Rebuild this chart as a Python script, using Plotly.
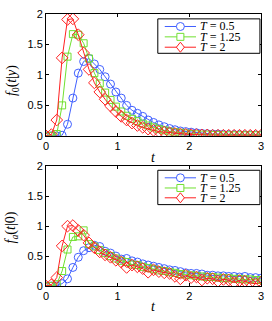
import numpy as np
import plotly.graph_objects as go

t = [round(i * 0.075, 3) for i in range(41)]

# top panel f0(t|y)
f0_T05 = [0, 0, 0, 0.01, 0.19, 0.62, 1.03, 1.22, 1.27, 1.18, 1.09, 0.97, 0.85, 0.72, 0.62, 0.50,
          0.42, 0.37, 0.32, 0.26, 0.22, 0.18, 0.15, 0.12, 0.10, 0.08, 0.07, 0.06, 0.05, 0.04,
          0.035, 0.03, 0.03, 0.025, 0.02, 0.02, 0.02, 0.015, 0.015, 0.015, 0.015]
f0_T125 = [0, 0, 0.03, 0.50, 1.30, 1.67, 1.66, 1.52, 1.27, 1.03, 0.86, 0.71, 0.59, 0.48, 0.40, 0.33,
           0.28, 0.24, 0.20, 0.17, 0.14, 0.11, 0.09, 0.07, 0.06, 0.05, 0.04, 0.03, 0.025, 0.02,
           0.02, 0.015, 0.015, 0.01, 0.01, 0.01, 0.01, 0.01, 0.01, 0.01, 0.01]
f0_T2 = [0, 0.02, 0.26, 1.28, 1.91, 1.92, 1.66, 1.36, 1.09, 0.87, 0.72, 0.60, 0.49, 0.40, 0.32, 0.26,
         0.21, 0.17, 0.14, 0.11, 0.09, 0.07, 0.06, 0.05, 0.04, 0.03, 0.025, 0.02, 0.02, 0.015,
         0.015, 0.01, 0.01, 0.01, 0.01, 0.01, 0.01, 0.01, 0.01, 0.01, 0.01]

# bottom panel fa(t|0)
fa_T05 = [0, 0, 0, 0.04, 0.12, 0.31, 0.48, 0.59, 0.64, 0.68, 0.66, 0.58, 0.55, 0.50, 0.45, 0.46,
          0.42, 0.40, 0.37, 0.35, 0.33, 0.31, 0.29, 0.27, 0.26, 0.24, 0.22, 0.21, 0.21, 0.20,
          0.18, 0.18, 0.17, 0.17, 0.16, 0.16, 0.15, 0.16, 0.14, 0.14, 0.13]
fa_T125 = [0, 0, 0.03, 0.25, 0.61, 0.82, 0.83, 0.93, 0.70, 0.66, 0.60, 0.55, 0.50, 0.46, 0.42, 0.40,
           0.36, 0.35, 0.32, 0.30, 0.28, 0.26, 0.25, 0.23, 0.22, 0.20, 0.19, 0.18, 0.17, 0.16,
           0.15, 0.15, 0.14, 0.13, 0.13, 0.12, 0.12, 0.11, 0.11, 0.10, 0.10]
fa_T2 = [0, 0.02, 0.14, 0.67, 1.00, 1.01, 0.93, 0.85, 0.72, 0.64, 0.57, 0.52, 0.48, 0.43, 0.40, 0.31,
         0.35, 0.32, 0.29, 0.23, 0.27, 0.24, 0.22, 0.21, 0.16, 0.12, 0.18, 0.14, 0.15, 0.10,
         0.13, 0.12, 0.08, 0.11, 0.10, 0.06, 0.09, 0.08, 0.05, 0.04, 0.06]

labels = ["<i>T</i> = 0.5", "<i>T</i> = 1.25", "<i>T</i> = 2"]
colors = ["#4060ff", "#70e030", "#ff2020"]
symbols = ["circle-open", "square-open", "diamond-open"]
sizes = [8, 7, 9]

fig = go.Figure()
for ys, lab, c, s, sz in zip([f0_T05, f0_T125, f0_T2], labels, colors, symbols, sizes):
    fig.add_trace(go.Scatter(x=t, y=ys, name=lab, mode="lines+markers",
                             line=dict(color=c, width=1),
                             marker=dict(symbol=s, size=sz, color=c, line=dict(width=1, color=c)),
                             xaxis="x", yaxis="y", showlegend=False))
for ys, lab, c, s, sz in zip([fa_T05, fa_T125, fa_T2], labels, colors, symbols, sizes):
    fig.add_trace(go.Scatter(x=t, y=ys, name=lab, mode="lines+markers",
                             line=dict(color=c, width=1),
                             marker=dict(symbol=s, size=sz, color=c, line=dict(width=1, color=c)),
                             xaxis="x2", yaxis="y2", showlegend=False))

axcommon = dict(showline=True, linecolor="black", linewidth=1, mirror="ticks",
                ticks="inside", ticklen=3, tickcolor="black", showgrid=False, zeroline=False,
                ticklabeloverflow="allow",
                tickfont=dict(family="Liberation Sans, Arial", size=11, color="black"))

shapes = []
annotations = []

# compact legends drawn inside each panel (data coords of that panel)
def add_legend(xr, yr, box_y, entry_ys):
    shapes.append(dict(type="rect", xref=xr, yref=yr, x0=1.56, x1=2.985, y0=box_y[0], y1=box_y[1],
                       line=dict(color="black", width=1), fillcolor="white", layer="above"))
    for ey, lab, c, s in zip(entry_ys, labels, colors, symbols):
        shapes.append(dict(type="line", xref=xr, yref=yr, x0=1.657, x1=2.093, y0=ey, y1=ey,
                           line=dict(color=c, width=1), layer="above"))
        common = dict(xref=xr, yref=yr, xsizemode="pixel", ysizemode="pixel",
                      xanchor=1.875, yanchor=ey, line=dict(color=c, width=1),
                      fillcolor="white", layer="above")
        if s == "circle-open":
            shapes.append(dict(type="circle", x0=-4, x1=4, y0=-4, y1=4, **common))
        elif s == "square-open":
            shapes.append(dict(type="rect", x0=-3.5, x1=3.5, y0=-3.5, y1=3.5, **common))
        else:
            shapes.append(dict(type="path", path="M 0 -5 L 4 0 L 0 5 L -4 0 Z", **common))
        annotations.append(dict(text=lab, x=2.13, y=ey, xref=xr, yref=yr, xanchor="left",
                                yanchor="middle", showarrow=False, borderpad=0,
                                font=dict(family="Liberation Serif", size=12, color="black")))

add_legend("x", "y", (1.355, 1.92), [1.795, 1.625, 1.455])
add_legend("x2", "y2", (1.36, 1.934), [1.808, 1.638, 1.474])

annotations += [
    dict(text="<i>t</i>", x=1.5, y=0.473, xref="x", yref="paper", showarrow=False,
         yanchor="middle", font=dict(family="Liberation Serif", size=14, color="black")),
    dict(text="<i>t</i>", x=1.5, y=-0.075, xref="x2", yref="paper", showarrow=False,
         yanchor="middle", font=dict(family="Liberation Serif", size=14, color="black")),
    dict(text="<i>f</i><sub>0</sub>(<i>t</i>|<i>y</i>)", x=-0.156, y=0.755, xref="paper", yref="paper",
         xanchor="center", yanchor="middle",
         showarrow=False, textangle=-90, font=dict(family="Liberation Serif", size=14, color="black")),
    dict(text="<i>f<sub>a</sub></i>(<i>t</i>|0)", x=-0.156, y=0.217, xref="paper", yref="paper",
         xanchor="center", yanchor="middle",
         showarrow=False, textangle=-90, font=dict(family="Liberation Serif", size=14, color="black")),
]

fig.update_layout(
    width=272, height=321,
    margin=dict(l=46, r=8, t=9, b=35),
    paper_bgcolor="white", plot_bgcolor="white",
    showlegend=False,
    xaxis=dict(domain=[0, 1], anchor="y", range=[0, 3], tickvals=[0, 1, 2, 3], **axcommon),
    yaxis=dict(domain=[0.552, 1], anchor="x", range=[0, 2], tickvals=[0, 0.5, 1, 1.5, 2], **axcommon),
    xaxis2=dict(domain=[0, 1], anchor="y2", range=[0, 3], tickvals=[0, 1, 2, 3], **axcommon),
    yaxis2=dict(domain=[0, 0.44], anchor="x2", range=[0, 2], tickvals=[0, 0.5, 1, 1.5, 2], **axcommon),
    shapes=shapes,
    annotations=annotations,
)

fig.write_html("out.html", config={"displayModeBar": False},
               post_script="document.body.style.margin='0px';")
